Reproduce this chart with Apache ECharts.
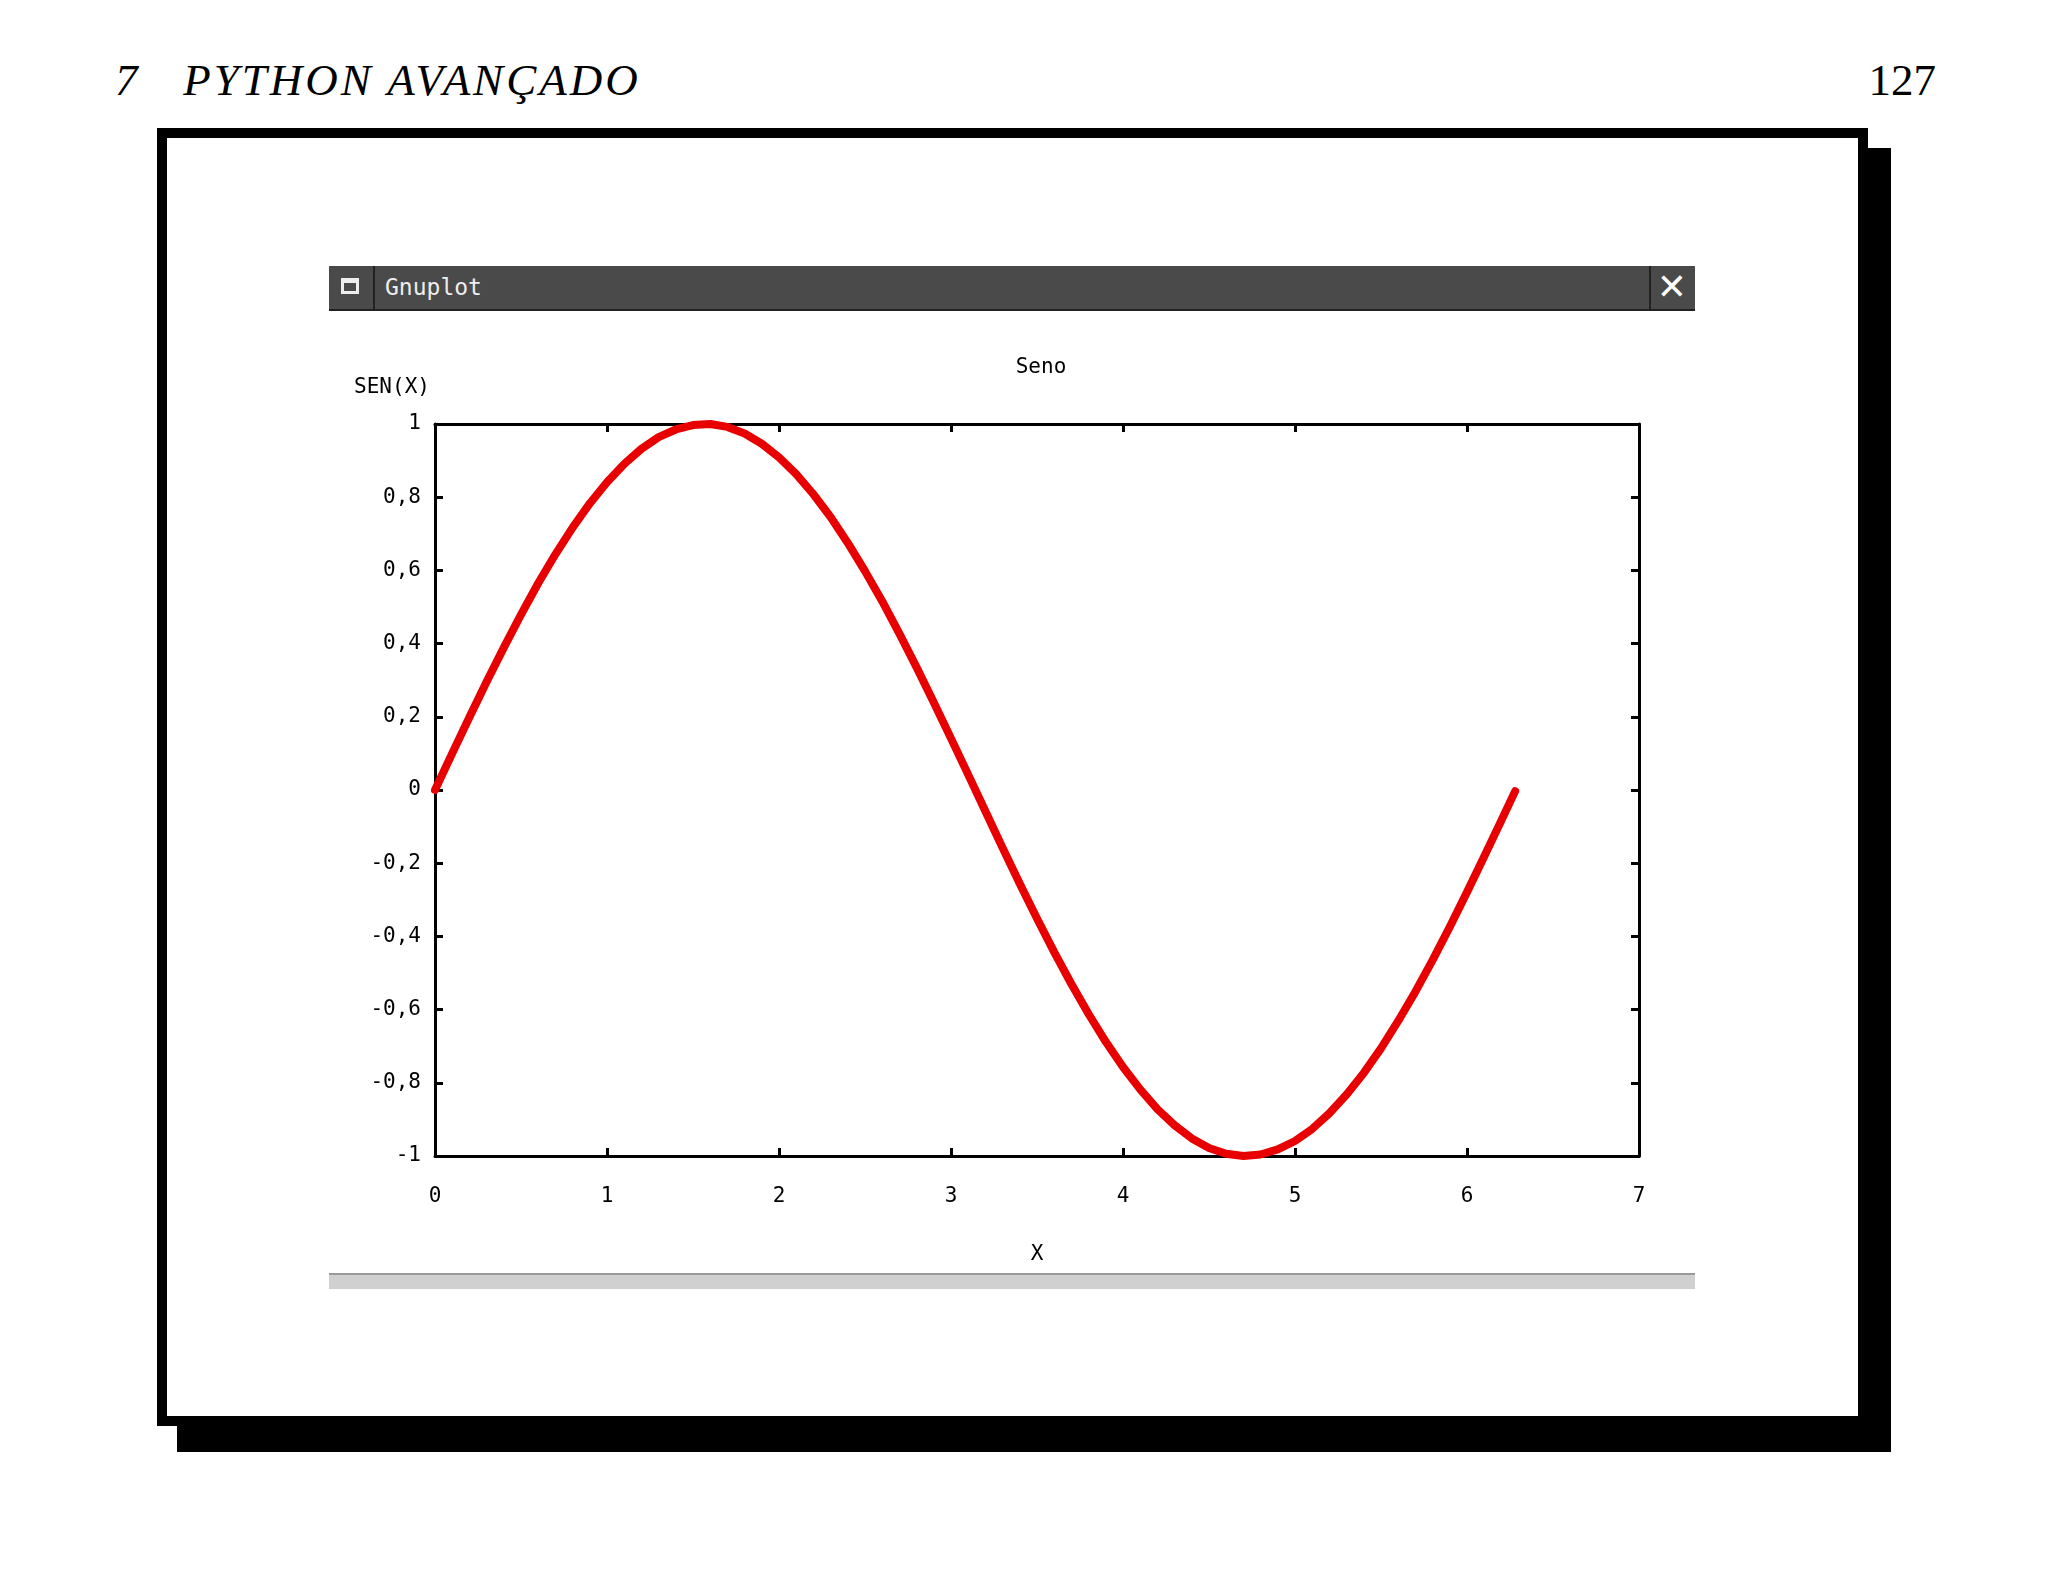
<!DOCTYPE html>
<html>
<head>
<meta charset="utf-8">
<script src="https://cdn.jsdelivr.net/npm/echarts@6/dist/echarts.min.js"></script>
<style>
  body { margin: 0; background: #fff; }
  #page { position: relative; width: 2048px; height: 1582px; overflow: hidden; }
  .abs { position: absolute; }
  #head { left: 115px; top: 54px; font: italic 45px "Liberation Serif", serif; letter-spacing: 3px; }
  #num { right: 112px; top: 54px; font: 45px "Liberation Serif", serif; }
  #shadow { left: 177px; top: 148px; width: 1714px; height: 1304px; background: #000; }
  #frame { left: 157px; top: 128px; background: #fff; border: 10px solid #000; box-sizing: border-box; width: 1711px; height: 1298px; }
  #bar { left: 329px; top: 266px; width: 1366px; height: 45px; background: #4a4a4a; border-bottom: 2px solid #222; box-sizing: border-box; }
  #bar .ico { position: absolute; left: 12px; top: 12px; width: 18px; height: 16px; border: 3px solid #eee; border-top-width: 5px; box-sizing: border-box; }
  #bar .sep { position: absolute; left: 44px; top: 0; width: 2px; height: 43px; background: #222; }
  #bar .sep2 { position: absolute; right: 44px; top: 0; width: 2px; height: 43px; background: #222; }
  #bar .t { position: absolute; left: 56px; top: 8px; color: #eee; font: 23px "DejaVu Sans Mono", monospace; }
  #bar .x { position: absolute; right: 8px; top: 0px; color: #fff; font: bold 36px "DejaVu Sans", sans-serif; }
  #scroll { left: 329px; top: 1273px; width: 1366px; height: 16px; background: #d0d0d0; border-top: 2px solid #999; box-sizing: border-box; }
  #chart { left: 0; top: 0; width: 2048px; height: 1582px; }
</style>
</head>
<body>
<div id="page">
  <div id="head" class="abs">7&nbsp;&nbsp;&nbsp;PYTHON AVANÇADO</div>
  <div id="num" class="abs">127</div>
  <div id="shadow" class="abs"></div>
  <div id="frame" class="abs"></div>
  <div id="bar" class="abs"><div class="ico"></div><div class="sep"></div><div class="t">Gnuplot</div><div class="sep2"></div><div class="x">✕</div></div>
  <div id="scroll" class="abs"></div>
  <div id="chart" class="abs"></div>
</div>
<script>
var xValues = [0, 0.1, 0.2, 0.3, 0.4, 0.5, 0.6, 0.7, 0.8, 0.9, 1.0, 1.1, 1.2, 1.3, 1.4, 1.5, 1.6, 1.7, 1.8, 1.9,
  2.0, 2.1, 2.2, 2.3, 2.4, 2.5, 2.6, 2.7, 2.8, 2.9, 3.0, 3.1, 3.2, 3.3, 3.4, 3.5, 3.6, 3.7, 3.8, 3.9,
  4.0, 4.1, 4.2, 4.3, 4.4, 4.5, 4.6, 4.7, 4.8, 4.9, 5.0, 5.1, 5.2, 5.3, 5.4, 5.5, 5.6, 5.7, 5.8, 5.9,
  6.0, 6.1, 6.2, 6.28]
var senValues = [0, 0.100, 0.199, 0.296, 0.389, 0.479, 0.565, 0.644, 0.717, 0.783, 0.841, 0.891, 0.932, 0.964, 0.985, 0.997, 1.000, 0.992, 0.974, 0.946,
  0.909, 0.863, 0.808, 0.746, 0.675, 0.598, 0.516, 0.427, 0.335, 0.239, 0.141, 0.042, -0.058, -0.158, -0.256, -0.351, -0.443, -0.530, -0.612, -0.688,
  -0.757, -0.818, -0.872, -0.916, -0.952, -0.978, -0.994, -1.000, -0.996, -0.982, -0.959, -0.926, -0.883, -0.832, -0.773, -0.706, -0.631, -0.551, -0.465, -0.374,
  -0.279, -0.182, -0.083, -0.003]

const chart = echarts.init(document.getElementById('chart'))
const mono = '"DejaVu Sans Mono", monospace'
const fmt = v => String(Math.round(v * 10) / 10).replace('.', ',')
const tick = { show: true, inside: true, length: 8, lineStyle: { color: '#000', width: 3 } }
const line = { show: true, onZero: false, lineStyle: { color: '#000', width: 3 } }

chart.setOption({
  backgroundColor: 'transparent',
  animation: false,
  title: { text: 'Seno', left: 1036, top: 352, textAlign: 'center',
    textStyle: { fontFamily: mono, fontSize: 21, fontWeight: 'normal', color: '#000' } },
  grid: { left: 435, right: 409, top: 424, bottom: 426 },
  xAxis: [{
    type: 'value', min: 0, max: 7, interval: 1,
    name: 'X', nameLocation: 'middle', nameGap: 88,
    nameTextStyle: { fontFamily: mono, fontSize: 21, color: '#000' },
    axisLine: line, axisTick: tick, splitLine: { show: false },
    axisLabel: { fontFamily: mono, fontSize: 21, color: '#000', margin: 30 }
  }, {
    type: 'value', min: 0, max: 7, interval: 1, position: 'top',
    axisLine: line, axisTick: tick, splitLine: { show: false }, axisLabel: { show: false }
  }],
  yAxis: [{
    type: 'value', min: -1, max: 1, interval: 0.2,
    name: 'SEN(X)', nameLocation: 'end', nameGap: 26,
    nameTextStyle: { fontFamily: mono, fontSize: 21, color: '#000', align: 'center', padding: [0, 0, 0, -86] },
    axisLine: line, axisTick: tick, splitLine: { show: false },
    axisLabel: { fontFamily: mono, fontSize: 21, color: '#000', margin: 14, formatter: fmt }
  }, {
    type: 'value', min: -1, max: 1, interval: 0.2, position: 'right',
    axisLine: line, axisTick: tick, splitLine: { show: false }, axisLabel: { show: false }
  }],
  series: [{
    type: 'line',
    data: xValues.map((x, i) => [x, senValues[i]]),
    smooth: false, showSymbol: false,
    lineStyle: { color: '#e80000', width: 8, cap: 'round', join: 'round' }
  }]
})
</script>
</body>
</html>
